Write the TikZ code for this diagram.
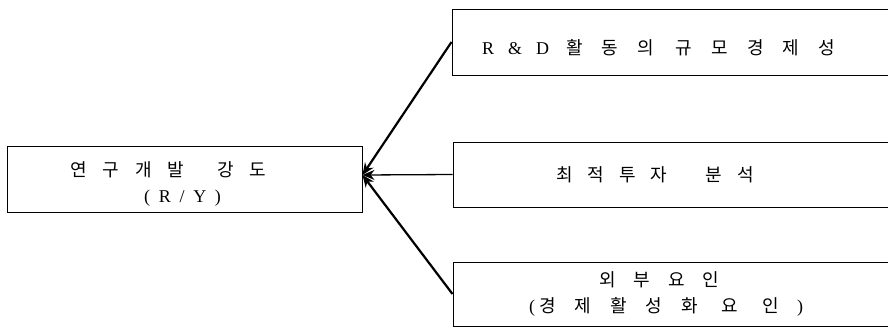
\documentclass[tikz,border=0pt]{standalone}
\usepackage{fontspec}
\setmainfont{Liberation Serif}
\newfontfamily\kr{Noto Sans CJK KR}
\usetikzlibrary{arrows.meta}
\begin{document}
\begin{tikzpicture}[x=1pt,y=-1pt,
  box/.style={draw, line width=1pt, inner sep=0pt},
  txt/.style={inner sep=0pt, anchor=base west, font=\fontsize{18}{21}\selectfont},
  conn/.style={line width=2.2pt, -{Stealth[length=12pt,width=10pt]}}]
\useasboundingbox (0,0) rectangle (888,327);
\clip (0,0) rectangle (888,327);
\node[box, minimum width=355pt, minimum height=66pt] (L) at (184.5,179) {};
\node[box, minimum width=448pt, minimum height=66pt] (B1) at (676,42) {};
\node[box, minimum width=448pt, minimum height=65pt] (B2) at (677,174.5) {};
\node[box, minimum width=448pt, minimum height=64pt] (B3) at (677,294) {};
\node[txt] (tL1) at (70,176) {\kr\spaceskip=16pt\relax 연 구 개 발 \hspace{17pt}강 도};
\node[txt] (tL2) at (144,202) {\spaceskip=8.7pt\relax ( R / Y )};
\node[txt] (t1) at (482,54) {R\hspace{14pt}\&\hspace{14pt}D\hspace{17pt}{\kr\spaceskip=19pt\relax 활 동 의 \hspace{3pt}규 모 경 제 성}};
\node[txt] (t2) at (556,181) {\kr\spaceskip=15pt\relax 최 적 투 자 \hspace{23pt}분 석};
\node[txt] (t3a) at (599,286) {\kr\spaceskip=18pt\relax 외 부 요 인};
\node[txt] (t3b) at (529,312) {(\hspace{4pt}{\kr\spaceskip=19pt\relax 경 제 활 성 화 \hspace{5pt}요 \hspace{5pt}인}\hspace{18pt})};
\coordinate (tip) at ([yshift=4pt]L.east);
\draw[conn] (B1.west) -- (tip);
\draw[conn, line width=1.3pt] (B2.west) -- (tip);
\draw[conn] (B3.west) -- (tip);
\end{tikzpicture}
\end{document}
